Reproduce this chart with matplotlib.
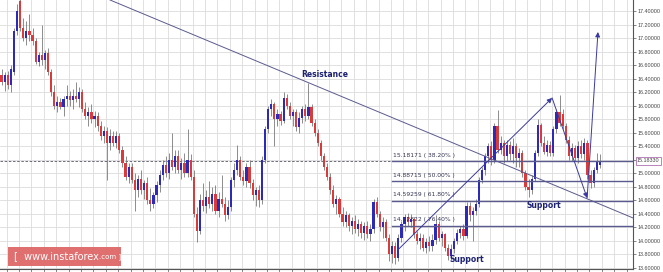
import numpy as np
import matplotlib
matplotlib.use("Agg")
import matplotlib.pyplot as plt
from matplotlib.patches import Rectangle
import matplotlib.transforms as mtransforms

# candle data (one candle per bar)
opens = [16.45, 16.35, 16.45, 16.30, 16.50, 17.10, 17.55, 17.15, 17.00, 17.10,
         17.05, 16.95, 16.65, 16.75, 16.68, 16.78, 16.50, 16.20, 16.00, 16.05,
         15.98, 16.10, 16.15, 16.08, 16.15, 16.10, 16.20, 15.95, 15.85, 15.90,
         15.80, 15.85, 15.70, 15.55, 15.62, 15.45, 15.55, 15.45, 15.55, 15.35,
         15.15, 14.95, 15.10, 14.90, 14.75, 14.92, 14.75, 14.85, 14.60, 14.55,
         14.68, 14.82, 14.98, 15.12, 15.00, 15.20, 15.10, 15.25, 15.05, 15.15,
         15.00, 15.20, 14.95, 14.40, 14.15, 14.60, 14.52, 14.65, 14.55, 14.70,
         14.45, 14.62, 14.55, 14.38, 14.50, 14.90, 15.05, 15.20, 14.95, 14.88,
         15.10, 14.85, 14.68, 14.75, 14.60, 15.20, 15.65, 15.95, 16.02, 15.80,
         15.88, 15.78, 16.12, 16.00, 15.85, 15.90, 15.68, 15.82, 15.95, 15.85,
         15.98, 15.75, 15.60, 15.45, 15.25, 15.10, 14.95, 14.75, 14.55, 14.62,
         14.40, 14.28, 14.38, 14.22, 14.30, 14.18, 14.25, 14.12, 14.22, 14.10,
         14.18, 14.58, 14.40, 14.20, 14.28, 14.05, 13.80, 13.92, 13.75, 14.05,
         14.25, 14.35, 14.28, 14.32, 14.10, 14.00, 14.05, 13.90, 13.98, 13.92,
         14.02, 14.25, 14.05, 14.10, 13.90, 13.78, 13.88, 14.00, 14.12, 14.18,
         14.08, 14.52, 14.38, 14.45, 14.55, 14.90, 15.05, 15.25, 15.40, 15.20,
         15.70, 15.35, 15.45, 15.25, 15.42, 15.28, 15.40, 15.22, 15.30, 15.00,
         14.80, 14.75, 14.92, 15.30, 15.72, 15.45, 15.32, 15.42, 15.30, 15.65,
         15.90, 15.88, 15.70, 15.50, 15.25, 15.38, 15.22, 15.40, 15.28, 15.45,
         14.98, 14.85, 15.05, 15.12]
highs = [16.55, 16.50, 16.52, 16.60, 17.15, 17.50, 17.60, 17.30, 17.25, 17.35,
         17.15, 17.00, 16.80, 17.20, 16.82, 16.85, 16.55, 16.30, 16.15, 16.12,
         16.15, 16.30, 16.22, 16.25, 16.35, 16.28, 16.25, 16.05, 15.98, 16.02,
         15.92, 15.90, 15.78, 15.70, 15.68, 15.65, 15.62, 15.62, 15.60, 15.40,
         15.25, 15.15, 15.15, 15.00, 14.98, 15.05, 14.90, 14.95, 14.78, 14.72,
         14.88, 15.05, 15.20, 15.25, 15.30, 15.60, 15.35, 15.35, 15.22, 15.30,
         15.65, 15.28, 15.05, 14.50, 14.70, 14.85, 14.75, 14.88, 14.80, 14.82,
         14.72, 14.98, 14.65, 14.60, 14.95, 15.15, 15.42, 15.25, 15.05, 15.15,
         15.20, 14.92, 14.80, 14.82, 15.25, 15.70, 16.00, 16.10, 16.05, 15.95,
         15.92, 16.20, 16.18, 16.05, 15.95, 15.95, 15.90, 16.00, 16.02, 16.33,
         16.02, 15.80, 15.65, 15.50, 15.30, 15.15, 15.00, 14.82, 14.68, 14.65,
         14.50, 14.45, 14.42, 14.35, 14.38, 14.32, 14.30, 14.28, 14.30, 14.25,
         14.62, 14.65, 14.45, 14.35, 14.32, 14.10, 14.00, 13.98, 14.10, 14.30,
         14.40, 14.42, 14.40, 14.36, 14.15, 14.12, 14.10, 14.05, 14.08, 14.10,
         14.38, 14.30, 14.15, 14.12, 13.95, 13.95, 14.05, 14.18, 14.22, 14.25,
         14.58, 14.58, 14.50, 14.62, 14.95, 15.10, 15.30, 15.45, 15.48, 15.75,
         15.94, 15.55, 15.50, 15.50, 15.48, 15.52, 15.45, 15.38, 15.35, 15.05,
         14.92, 14.98, 15.35, 15.80, 15.75, 15.55, 15.50, 15.48, 15.70, 15.95,
         16.16, 15.95, 15.75, 15.55, 15.45, 15.42, 15.48, 15.50, 15.52, 15.50,
         15.05, 15.10, 15.30, 15.28]
lows = [16.30, 16.22, 16.25, 16.20, 16.45, 17.05, 17.10, 16.95, 16.90, 16.95,
        16.90, 16.62, 16.58, 16.60, 16.55, 16.45, 16.15, 15.95, 15.90, 15.95,
        15.85, 16.00, 16.00, 15.95, 16.05, 15.98, 15.90, 15.80, 15.70, 15.75,
        15.68, 15.62, 15.50, 15.45, 14.90, 15.35, 15.40, 15.38, 15.30, 15.10,
        14.90, 14.85, 14.85, 14.45, 14.65, 14.70, 14.62, 14.55, 14.45, 14.48,
        14.58, 14.72, 14.90, 14.95, 14.92, 15.05, 15.00, 15.00, 14.92, 14.95,
        14.95, 14.90, 14.35, 13.98, 14.10, 14.45, 14.42, 14.48, 14.45, 14.40,
        14.35, 14.50, 14.30, 14.32, 14.45, 14.80, 14.98, 14.90, 14.82, 14.80,
        14.78, 14.60, 14.52, 14.50, 14.55, 15.15, 15.60, 15.85, 15.40, 15.70,
        15.72, 15.75, 15.95, 15.80, 15.70, 15.62, 15.60, 15.75, 15.78, 15.80,
        15.70, 15.55, 15.40, 15.20, 15.05, 14.90, 14.70, 14.50, 14.40, 14.35,
        14.22, 14.20, 14.15, 14.10, 14.12, 14.08, 14.05, 14.02, 14.05, 14.00,
        14.12, 14.35, 14.15, 14.05, 14.00, 13.70, 13.68, 13.66, 13.70, 13.98,
        14.15, 14.22, 14.20, 14.05, 13.95, 13.88, 13.85, 13.82, 13.85, 13.85,
        13.95, 14.00, 13.92, 13.85, 13.72, 13.72, 13.82, 13.95, 14.05, 14.02,
        14.05, 14.30, 14.00, 14.38, 14.50, 14.85, 14.98, 15.15, 15.12, 15.15,
        15.30, 15.28, 15.15, 15.18, 15.20, 15.15, 15.10, 15.10, 14.95, 14.75,
        14.65, 14.70, 14.88, 15.25, 15.40, 15.28, 15.25, 15.25, 15.25, 15.60,
        15.70, 15.65, 15.45, 15.20, 15.18, 15.18, 15.15, 15.22, 15.20, 14.92,
        14.78, 14.80, 15.00, 15.08]
closes = [16.35, 16.45, 16.30, 16.55, 17.10, 17.40, 17.15, 17.00, 17.10, 17.05,
          16.95, 16.65, 16.75, 16.68, 16.78, 16.50, 16.20, 16.00, 16.05, 15.98,
          16.10, 16.15, 16.08, 16.15, 16.10, 16.20, 15.95, 15.85, 15.90, 15.80,
          15.85, 15.70, 15.55, 15.62, 15.45, 15.55, 15.45, 15.55, 15.35, 15.15,
          14.95, 15.10, 14.90, 14.75, 14.92, 14.75, 14.85, 14.60, 14.55, 14.68,
          14.82, 14.98, 15.12, 15.00, 15.20, 15.10, 15.25, 15.05, 15.15, 15.00,
          15.20, 14.95, 14.40, 14.15, 14.60, 14.52, 14.65, 14.55, 14.70, 14.45,
          14.62, 14.55, 14.38, 14.50, 14.90, 15.05, 15.20, 14.95, 14.88, 15.10,
          14.85, 14.68, 14.75, 14.60, 15.20, 15.65, 15.95, 16.02, 15.80, 15.88,
          15.78, 16.12, 16.00, 15.85, 15.90, 15.68, 15.82, 15.95, 15.85, 15.98,
          15.75, 15.60, 15.45, 15.25, 15.10, 14.95, 14.75, 14.55, 14.62, 14.40,
          14.28, 14.38, 14.22, 14.30, 14.18, 14.25, 14.12, 14.22, 14.10, 14.18,
          14.58, 14.40, 14.20, 14.28, 14.05, 13.80, 13.92, 13.75, 14.05, 14.25,
          14.35, 14.28, 14.32, 14.10, 14.00, 14.05, 13.90, 13.98, 13.92, 14.02,
          14.25, 14.05, 14.10, 13.90, 13.78, 13.88, 14.00, 14.12, 14.18, 14.08,
          14.52, 14.38, 14.45, 14.55, 14.90, 15.05, 15.25, 15.40, 15.20, 15.70,
          15.35, 15.45, 15.25, 15.42, 15.28, 15.40, 15.22, 15.30, 15.00, 14.80,
          14.75, 14.92, 15.30, 15.72, 15.45, 15.32, 15.42, 15.30, 15.65, 15.90,
          15.75, 15.70, 15.50, 15.25, 15.38, 15.22, 15.40, 15.28, 15.45, 14.98,
          14.85, 15.05, 15.18, 15.1833]

# fibonacci levels and labels
fib_levels = [15.18171, 14.88715, 14.59259, 14.22822]
fib_labels = ["15.18171 ( 38.20% )", "14.88715 ( 50.00% )",
              "14.59259 ( 61.80% )", "14.22822 ( 76.40% )"]
last_price = 15.1833

# trend line (bar, price) ends and the arrow path
trend_x = [35.0, 203.7]
trend_y = [17.563, 14.34]
path_x = [127.9, 177.6, 188.9, 192.4]
path_y = [13.87, 16.115, 14.635, 17.09]

y_ticks = np.arange(13.6, 17.41, 0.2)

o = np.array(opens)
h = np.array(highs)
l = np.array(lows)
c = np.array(closes)
idx = np.arange(len(c))

fig = plt.figure(figsize=(6.63, 2.72), dpi=100)
ax = fig.add_axes([0, 3 / 272, 633 / 663, 269 / 272])
ax.set_xlim(-0.5, 203.7)
ax.set_ylim(13.585, 17.563)

# grid
for gx in np.arange(1.66, 204, 4):
    ax.axvline(gx, color="#dcdcdc", lw=0.6, zorder=0)
for gy in y_ticks:
    ax.axhline(gy, color="#dcdcdc", lw=0.6, zorder=0)

# candles
up = c >= o
ax.vlines(idx, l, h, color="#7a7a7a", lw=0.6, zorder=2)
ax.bar(idx[up], (c - o)[up], bottom=o[up], width=0.7, color="#2b2bb8", zorder=3)
ax.bar(idx[~up], (o - c)[~up], bottom=c[~up], width=0.7, color="#d93a3a", zorder=3)

# current price dashed line
ax.axhline(last_price, color="#555566", lw=0.6, ls=(0, (3, 2)), zorder=1)

# fibonacci lines
for lev, lab in zip(fib_levels, fib_labels):
    ax.plot([126, 203.7], [lev, lev], color="#5a5a8c", lw=1.0, zorder=4)
    ax.text(126.3, lev + 0.05, lab, fontsize=4.3, color="#333355",
            va="bottom", ha="left", zorder=5)

# trend line
ax.plot(trend_x, trend_y, color="#5a5a90", lw=0.7, zorder=4)

# arrows
for k in range(3):
    ax.annotate("", xy=(path_x[k + 1], path_y[k + 1]), xytext=(path_x[k], path_y[k]),
                arrowprops=dict(arrowstyle="-|>", color="#3a3aa0", lw=0.7,
                                mutation_scale=7, shrinkA=0, shrinkB=0), zorder=6)

ax.text(104.3, 16.46, "Resistance", fontsize=5.5, fontweight="bold",
        color="#1c2270", ha="center", va="center", zorder=6)
ax.text(150.1, 13.72, "Support", fontsize=5.5, fontweight="bold",
        color="#1c2270", ha="center", va="center", zorder=6)
ax.text(175.0, 14.53, "Support", fontsize=5.5, fontweight="bold",
        color="#1c2270", ha="center", va="center", zorder=6)

# axes look
ax.yaxis.tick_right()
ax.set_yticks(y_ticks)
ax.set_yticklabels(["%.5f" % v for v in y_ticks], family="Liberation Sans")
ax.tick_params(axis="y", labelsize=3.9, labelcolor="#444444", length=2.5,
               width=0.5, color="#555555", pad=0.8)
ax.set_xticks(np.arange(1.66, 204, 4))
ax.tick_params(axis="x", length=2.5, width=0.5, color="#555555", labelbottom=False)
for side in ["top", "left"]:
    ax.spines[side].set_visible(False)
for side in ["right", "bottom"]:
    ax.spines[side].set_color("#555555")
    ax.spines[side].set_linewidth(0.8)

trans = mtransforms.blended_transform_factory(ax.transAxes, ax.transData)
ax.text(1.006, last_price, "%.5f" % last_price, transform=trans, fontsize=3.9,
        family="Liberation Sans", color="#444444", va="center", ha="left",
        clip_on=False,
        bbox=dict(boxstyle="square,pad=0.2", fc="white", ec="#b070b0", lw=0.6))

# watermark
fig.patches.append(Rectangle((8 / 663, 6 / 272), 113 / 663, 19 / 272,
                             transform=fig.transFigure, fc="#de6464", ec="none",
                             alpha=0.92, zorder=10))
t1 = fig.text(14 / 663, 15.5 / 272, "[  www.instaforex", fontsize=7, color="white",
              va="center", ha="left", zorder=11)
fig.canvas.draw()
bb = t1.get_window_extent()
fig.text(bb.x1 / 663, bb.y0 / 272 + 0.004, ".com ]", fontsize=5, color="white",
         va="bottom", ha="left", zorder=11)

fig.savefig("out.png", dpi=100)
